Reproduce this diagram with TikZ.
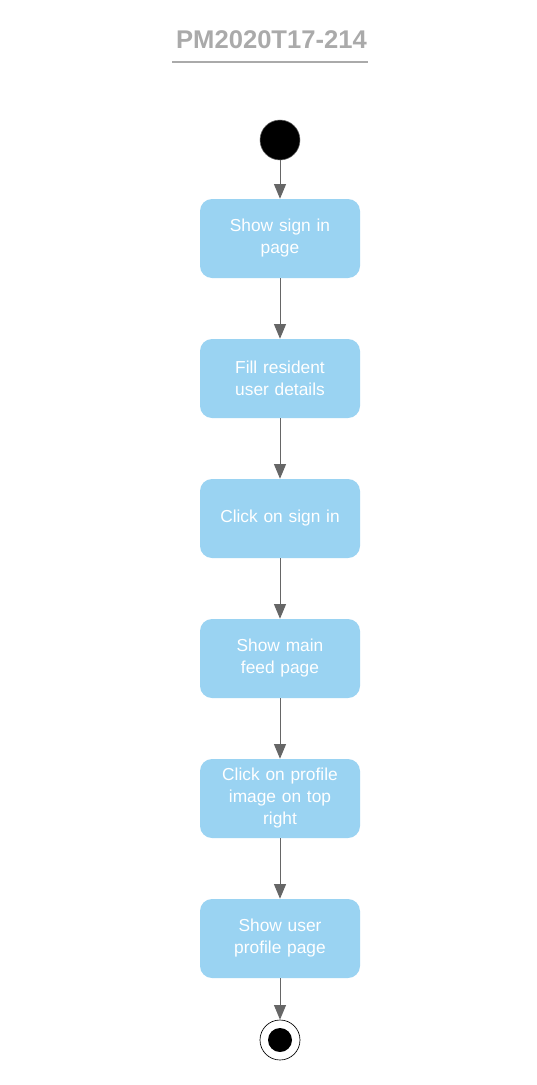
\documentclass[tikz,border=0pt]{standalone}
\usepackage{fontspec}
\setmainfont{Liberation Sans}
\usetikzlibrary{arrows.meta}
\definecolor{boxblue}{RGB}{154,211,242}
\definecolor{linegray}{RGB}{102,102,102}
\definecolor{titlegray}{RGB}{170,170,170}
\tikzset{
  act/.style={draw=none, fill=boxblue, rounded corners=9pt, minimum width=120pt, minimum height=59.25pt,
    text width=112pt, align=center, text=white, font=\fontsize{13pt}{16.5pt}\selectfont, inner sep=0pt},
  flow/.style={draw=linegray, line width=0.75pt, -{Triangle[length=11pt,width=9pt]}},
}
\begin{document}
\begin{tikzpicture}[x=0.75pt,y=-0.75pt]
\useasboundingbox (0,0) rectangle (536,1085);
\node[text=titlegray, font=\bfseries\fontsize{19.2pt}{21pt}\selectfont] (title) at (271.5,39.5) {PM2020T17-214};
\draw[titlegray, line width=1.2pt] (172,62) -- (368,62);
\node[circle, fill=black, draw=linegray, line width=0.4pt, minimum size=30pt, inner sep=0pt] (start) at (280,140) {};
\node[act] (a1) at (280,238.5) {Show sign in\\page};
\node[act] (a2) at (280,378.5) {Fill resident\\user details};
\node[act] (a3) at (280,518.5) {Click on sign in};
\node[act] (a4) at (280,658.5) {Show main\\feed page};
\node[act] (a5) at (280,798.5) {Click on profile\\image on top\\right};
\node[act] (a6) at (280,938.5) {Show user\\profile page};
\node[circle, fill=white, draw=black, line width=0.5pt, minimum size=30pt, inner sep=0pt] (stop) at (280,1040) {};
\node[circle, fill=black, minimum size=18pt, inner sep=0pt] (stopin) at (280,1040) {};
\draw[flow] (start) -- (a1);
\draw[flow] (a1) -- (a2);
\draw[flow] (a2) -- (a3);
\draw[flow] (a3) -- (a4);
\draw[flow] (a4) -- (a5);
\draw[flow] (a5) -- (a6);
\draw[flow] (a6) -- (stop);
\end{tikzpicture}
\end{document}
